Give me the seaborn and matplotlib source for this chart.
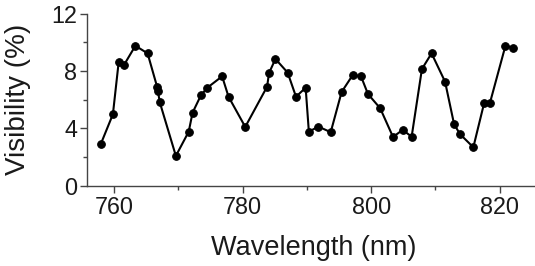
import numpy as np
import pandas as pd
import seaborn as sns
import matplotlib.pyplot as plt
from matplotlib.ticker import MultipleLocator

# wavelength (nm) and visibility (%)
wavelength = [757.9, 759.8, 760.7, 761.5, 763.3, 765.2, 766.7, 766.8, 767.1,
              769.6, 771.6, 772.2, 773.5, 774.5, 776.8, 777.8, 780.4, 783.8,
              784.1, 785.1, 787.0, 788.3, 789.8, 790.3, 791.8, 793.7, 795.4,
              797.1, 798.4, 799.5, 801.4, 803.4, 804.9, 806.3, 807.9, 809.4,
              811.5, 812.9, 813.8, 815.9, 817.6, 818.5, 820.9, 822.0]
visibility = [2.90, 4.99, 8.63, 8.40, 9.76, 9.23, 6.87, 6.63, 5.82,
              2.09, 3.78, 5.10, 6.31, 6.84, 7.63, 6.21, 4.11, 6.91,
              7.86, 8.84, 7.89, 6.21, 6.84, 3.78, 4.13, 3.74, 6.54,
              7.70, 7.65, 6.40, 5.41, 3.41, 3.90, 3.43, 8.14, 9.23,
              7.26, 4.31, 3.62, 2.69, 5.80, 5.80, 9.76, 9.63]

df = pd.DataFrame({'Wavelength': wavelength, 'Visibility': visibility})

sns.set_style('ticks')
plt.rcParams['font.family'] = ['Liberation Sans', 'DejaVu Sans']

fig = plt.figure(figsize=(5.35, 2.66), dpi=100)
ax = fig.add_axes([0.163, 0.301, 0.837, 0.648])

sns.lineplot(data=df, x='Wavelength', y='Visibility', ax=ax, color='black',
             linewidth=1.5, marker='o', markersize=5.5, markeredgecolor='black',
             estimator=None, sort=False)

ax.set_xlim(755.8, 825.5)
ax.set_ylim(0, 12)
ax.xaxis.set_major_locator(MultipleLocator(20))
ax.xaxis.set_minor_locator(MultipleLocator(10))
ax.yaxis.set_major_locator(MultipleLocator(4))
ax.yaxis.set_minor_locator(MultipleLocator(2))

for side in ['top', 'right']:
    ax.spines[side].set_visible(False)
for side in ['left', 'bottom']:
    ax.spines[side].set_color('#444444')
    ax.spines[side].set_linewidth(1.0)

ax.tick_params(which='major', length=5, width=1, color='#444444',
               labelsize=16.8, labelcolor='#1a1a1a', pad=2)
ax.tick_params(which='minor', length=3, width=1, color='#444444')

ax.set_xlabel('Wavelength (nm)', fontsize=19.5, color='#1a1a1a')
ax.set_ylabel('Visibility (%)', fontsize=20, color='#1a1a1a')
ax.xaxis.set_label_coords(0.505, -0.285)
ax.yaxis.set_label_coords(-0.125, 0.503)

fig.savefig('out.png', dpi=100)
